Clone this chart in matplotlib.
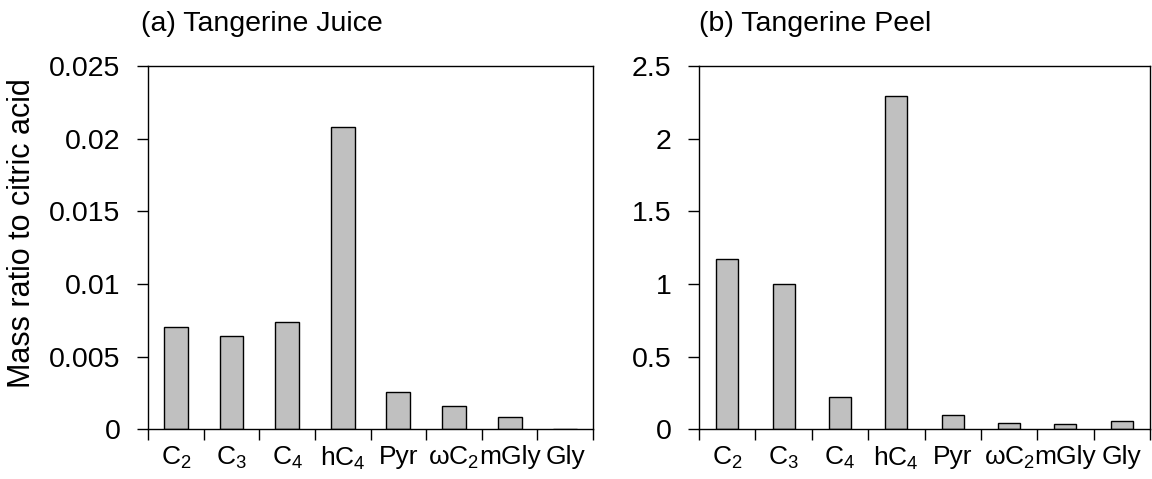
#!/usr/bin/env python3
"""
Mass ratio of small organic acids to citric acid in tangerine juice and peel.
"""
import numpy as np
import matplotlib
matplotlib.use("Agg")
import matplotlib.pyplot as plt
from matplotlib.ticker import FormatStrFormatter, FixedLocator

# ─── Data ─────────────────────────────────────────────────────────────────
CATEGORIES = [r"C$_2$", r"C$_3$", r"C$_4$", r"hC$_4$", "Pyr",
              r"ωC$_2$", "mGly", "Gly"]
JUICE = [0.00704, 0.00641, 0.00738, 0.0208, 0.00258, 0.00162, 0.00085, 0.0]
PEEL  = [1.17, 1.00, 0.225, 2.295, 0.100, 0.045, 0.034, 0.055]
JUICE_YTICKS = [0, 0.005, 0.01, 0.015, 0.02, 0.025]
PEEL_YTICKS  = [0, 0.5, 1, 1.5, 2, 2.5]

FS = 20.5        # tick labels / titles
FS_X = 19        # category labels
FS_YLAB = 22     # y axis label

plt.rcParams["font.family"] = ["Liberation Sans", "DejaVu Sans"]
plt.rcParams["mathtext.fontset"] = "custom"
plt.rcParams["mathtext.rm"] = "Liberation Sans"
plt.rcParams["mathtext.it"] = "Liberation Sans:italic"
plt.rcParams["axes.linewidth"] = 1.0


def draw_panel(ax, values, yticks, title, width, title_x):
    x = np.arange(len(CATEGORIES))
    ax.bar(x, values, width=width, color="#c0c0c0", edgecolor="black",
           linewidth=1.0, zorder=2)
    ax.set_xlim(-0.5, len(CATEGORIES) - 0.5)
    ax.set_ylim(yticks[0], yticks[-1])

    ax.set_xticks(x)
    ax.set_xticklabels(CATEGORIES, fontsize=FS_X)
    ax.xaxis.set_minor_locator(FixedLocator(np.arange(-0.5, len(CATEGORIES), 1.0)))
    ax.tick_params(axis="x", which="major", length=0, pad=11)
    ax.tick_params(axis="x", which="minor", length=8, width=1.0, direction="out")

    ax.set_yticks(yticks)
    ax.yaxis.set_major_formatter(FormatStrFormatter("%g"))
    ax.tick_params(axis="y", length=8, width=1.0, direction="out",
                   labelsize=FS, pad=12)

    ax.text(title_x, 1.08, title, transform=ax.transAxes, fontsize=FS,
            ha="left", va="bottom")


fig = plt.figure(figsize=(11.52, 4.79), dpi=100)
ax1 = fig.add_axes([0.1285, 0.1037, 0.3863, 0.7585])
ax2 = fig.add_axes([0.6068, 0.1037, 0.3915, 0.7585])

draw_panel(ax1, JUICE, JUICE_YTICKS, "(a) Tangerine Juice", 0.43, -0.015)
draw_panel(ax2, PEEL, PEEL_YTICKS, "(b) Tangerine Peel", 0.39, 0.0)

ax1.set_ylabel("Mass ratio to citric acid", fontsize=FS_YLAB)
ax1.yaxis.set_label_coords(-0.25, 0.539)

fig.savefig("out.png", dpi=100)
